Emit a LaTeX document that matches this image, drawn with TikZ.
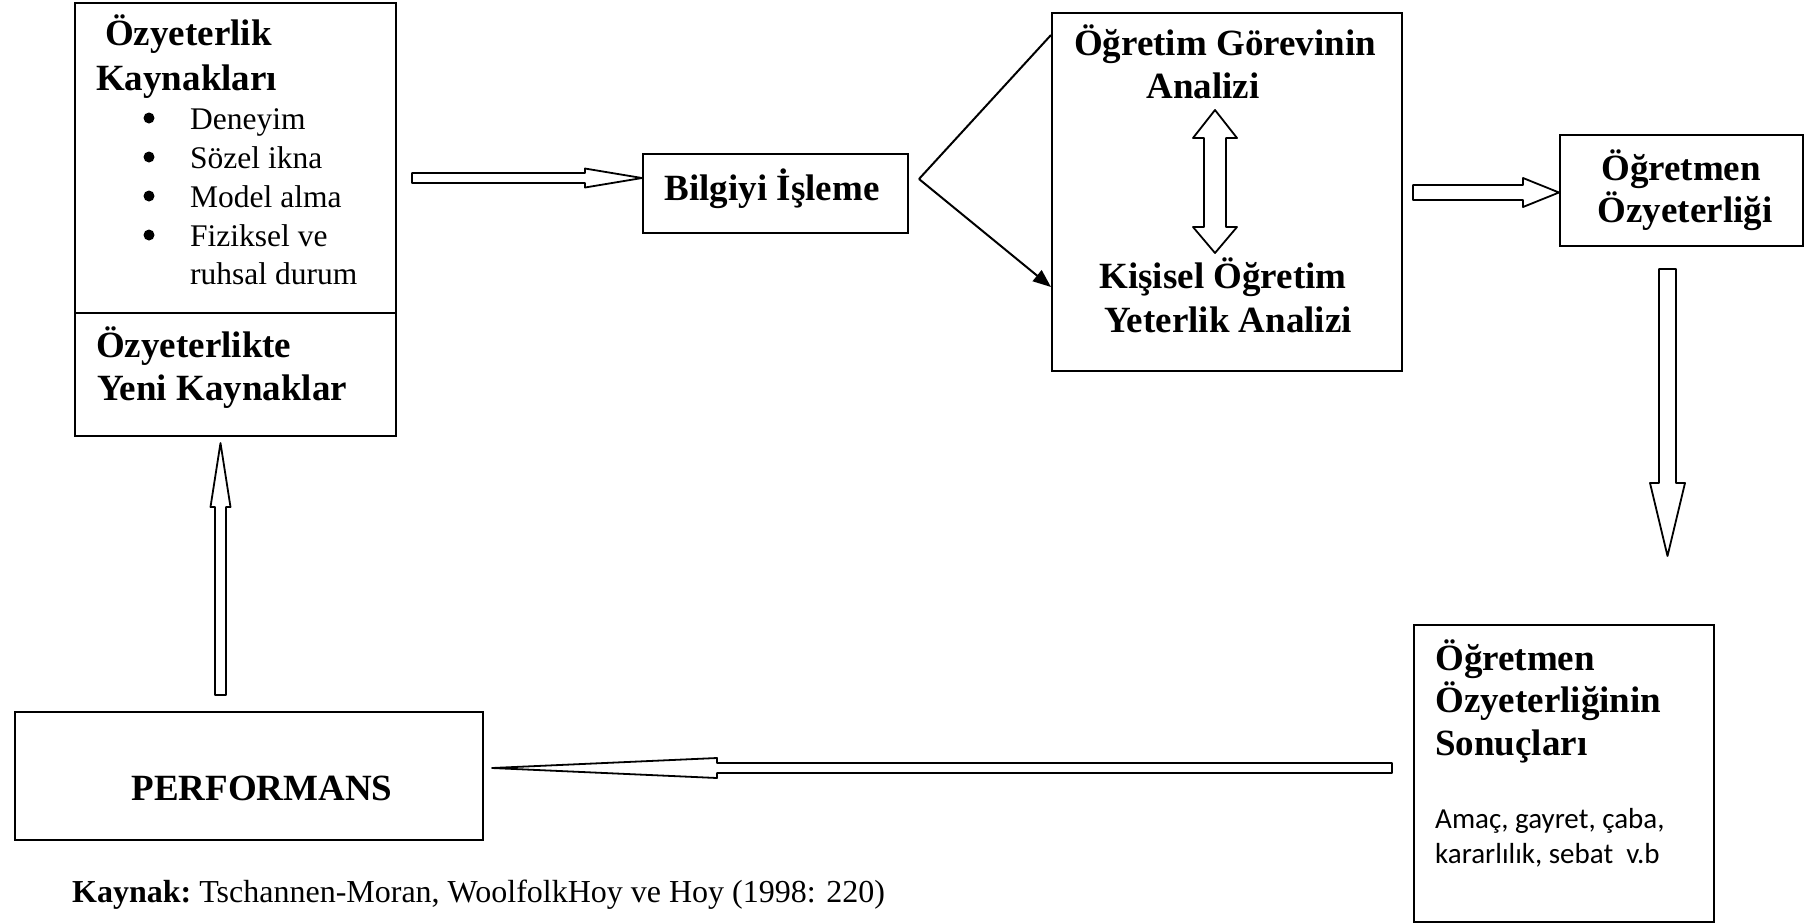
\documentclass[tikz,border=0pt]{standalone}
\usepackage{fontspec}
\setmainfont{Liberation Serif}
\newfontfamily\calibrisub{Carlito}
\usetikzlibrary{calc,arrows.meta}
\begin{document}
\begin{tikzpicture}[x=1pt,y=-1pt,
  box/.style={draw,line width=2pt,inner sep=0pt,anchor=north west},
  ttl/.style={inner sep=0pt,font=\fontsize{37}{42}\selectfont\bfseries},
  reg/.style={inner sep=0pt,font=\fontsize{31.5}{38}\selectfont},
  sns/.style={inner sep=0pt,font=\fontsize{29}{35}\selectfont\calibrisub},
  blk/.style={draw,line width=1.8pt,line join=round,fill=white},
  conn/.style={draw,line width=2pt}]
\path[use as bounding box] (0,0) rectangle (1810,922);

% boxes
\node[box,minimum width=321,minimum height=310] (src) at (74,2) {};
\node[box,minimum width=321,minimum height=123] (newsrc) at (74,312) {};
\node[box,minimum width=265,minimum height=79] (bilgi) at (642,153) {};
\node[box,minimum width=350,minimum height=358] (big) at (1051,12) {};
\node[box,minimum width=243,minimum height=111] (oz) at (1559,134) {};
\node[box,minimum width=300,minimum height=297] (sonuc) at (1413,624) {};
\node[box,minimum width=468,minimum height=128] (perf) at (14,711) {};

% left box texts
\node[ttl,anchor=base west] (t1) at (105,45) {Özyeterlik};
\node[ttl,anchor=base west] (t2) at (96,90) {Kaynakları};
\foreach \yy/\txt [count=\i] in {129/Deneyim,168/Sözel ikna,207/Model alma,246/Fiziksel ve}{
  \fill (149,\yy-11) circle (5.5);
  \node[reg,anchor=base west] (it\i) at (190,\yy) {\txt};
}
\node[reg,anchor=base west] (it5) at (190,284) {ruhsal durum};
\node[ttl,anchor=base west] (t3) at (96,357) {Özyeterlikte};
\node[ttl,anchor=base west] (t4) at (97,400) {Yeni Kaynaklar};

% bilgi
\node[ttl,anchor=base] (tb) at (772,200) {Bilgiyi İşleme};

% big box texts
\node[ttl,anchor=base] (g1) at (1225,55) {Öğretim Görevinin};
\node[ttl,anchor=base] (g2) at (1203,98) {Analizi};
\node[ttl,anchor=base] (g3) at (1223,288) {Kişisel Öğretim};
\node[ttl,anchor=base] (g4) at (1228,332) {Yeterlik Analizi};

% oz box
\node[ttl,anchor=base] (o1) at (1681,180) {Öğretmen};
\node[ttl,anchor=base] (o2) at (1685,222) {Özyeterliği};

% sonuc box
\node[ttl,anchor=base west] (s1) at (1435,670) {Öğretmen};
\node[ttl,anchor=base west] (s2) at (1435,712) {Özyeterliğinin};
\node[ttl,anchor=base west] (s3) at (1435,755) {Sonuçları};
\node[sns,anchor=base west] (s4) at (1435,828) {Amaç, gayret, çaba,};
\node[sns,anchor=base west] (s5) at (1435,863) {kararlılık, sebat\ \ v.b};

% performans
\node[ttl,anchor=base] (pt) at (262,800) {PERFORMANS};

% source line
\node[inner sep=0pt,font=\fontsize{32}{38}\selectfont,anchor=base west] (kay) at (72,902) {\textbf{Kaynak:}~Tschannen-Moran, WoolfolkHoy ve Hoy (1998: 220)};

% coordinates
\coordinate (a1s) at (412,178);
\coordinate (a1t) at (bilgi.west |- a1s);
\coordinate (a2s) at (1413,192.5);
\coordinate (a2t) at (oz.west |- a2s);
\coordinate (dns) at (1667.5,269);
\coordinate (dnt) at (1667.5,556);
\coordinate (lls) at (1392,768);
\coordinate (llt) at (492,768);
\coordinate (ups) at (220.5,695);
\coordinate (upt) at (220.5,443);
\coordinate (dbt) at (1215,110);
\coordinate (dbb) at (1215,253);
\coordinate (br) at ($(bilgi.east)+(10,-14.5)$);
\coordinate (uend) at ($(big.north west)+(0,23)$);
\coordinate (lend) at ($(big.north west)+(0,275)$);

% block arrows
\draw[blk] ($(a1s)+(0,-5)$) -- ($(a1t)+(-57,-5)$) -- ($(a1t)+(-57,-9.5)$) -- (a1t)
  -- ($(a1t)+(-57,9.5)$) -- ($(a1t)+(-57,5)$) -- ($(a1s)+(0,5)$) -- cycle;
\draw[blk] ($(a2s)+(0,-7.5)$) -- ($(a2t)+(-36,-7.5)$) -- ($(a2t)+(-36,-14.5)$) -- (a2t)
  -- ($(a2t)+(-36,14.5)$) -- ($(a2t)+(-36,7.5)$) -- ($(a2s)+(0,7.5)$) -- cycle;
\draw[blk] ($(dns)+(-8.5,0)$) -- ($(dnt)+(-8.5,-73)$) -- ($(dnt)+(-17.5,-73)$) -- (dnt)
  -- ($(dnt)+(17.5,-73)$) -- ($(dnt)+(8.5,-73)$) -- ($(dns)+(8.5,0)$) -- cycle;
\draw[blk] ($(lls)+(0,-5)$) -- ($(llt)+(225,-5)$) -- ($(llt)+(225,-10)$) -- (llt)
  -- ($(llt)+(225,10)$) -- ($(llt)+(225,5)$) -- ($(lls)+(0,5)$) -- cycle;
\draw[blk] ($(ups)+(-5.5,0)$) -- ($(upt)+(-5.5,64)$) -- ($(upt)+(-10,64)$) -- (upt)
  -- ($(upt)+(10,64)$) -- ($(upt)+(5.5,64)$) -- ($(ups)+(5.5,0)$) -- cycle;
\draw[blk] (dbt) -- ($(dbt)+(22,28)$) -- ($(dbt)+(11,28)$) -- ($(dbb)+(11,-26)$)
  -- ($(dbb)+(22,-26)$) -- (dbb) -- ($(dbb)+(-22,-26)$) -- ($(dbb)+(-11,-26)$)
  -- ($(dbt)+(-11,28)$) -- ($(dbt)+(-22,28)$) -- cycle;

% branch lines
\draw[conn] (br) -- (uend);
\draw[conn,-{Triangle[length=18pt,width=14pt]}] (br) -- (lend);
\end{tikzpicture}
\end{document}
